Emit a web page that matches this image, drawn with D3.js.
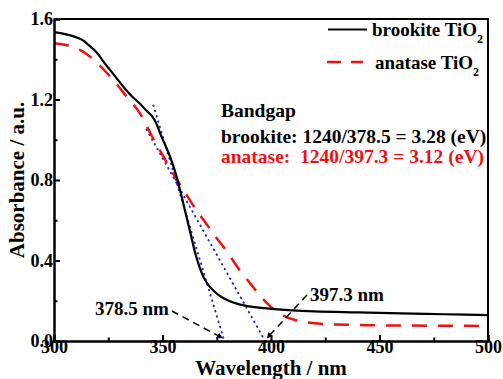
<!DOCTYPE html>
<html>
<head>
<meta charset="utf-8">
<script src="https://cdn.jsdelivr.net/npm/d3@7/dist/d3.min.js"></script>
<style>
  html, body { margin: 0; padding: 0; background: #fff; }
  svg { display: block; }
  text { font-family: "Liberation Serif", "Times New Roman", serif; font-weight: bold; }
</style>
</head>
<body>
<svg id="chart" width="503" height="379"></svg>
<script>
// Absorption spectra (absorbance vs wavelength, nm)
const brookiteWl = [300, 305, 310, 313, 316, 320, 323, 326, 330, 333, 336, 340, 343, 345, 347, 349, 351, 353.5, 356.5, 359, 361, 363, 365, 367, 369, 371, 374, 377, 380, 385, 390, 400, 410, 420, 440, 460, 480, 500];
const brookiteAbs = [1.535, 1.525, 1.51, 1.496, 1.47, 1.43, 1.385, 1.345, 1.29, 1.25, 1.215, 1.175, 1.14, 1.12, 1.085, 1.03, 0.98, 0.916, 0.817, 0.71, 0.62, 0.53, 0.44, 0.37, 0.315, 0.28, 0.245, 0.22, 0.203, 0.183, 0.172, 0.16, 0.152, 0.147, 0.142, 0.137, 0.133, 0.129];

const anataseWl = [300, 305, 310, 313, 316.6, 321, 327, 333.5, 340, 345, 350, 355, 360, 365, 370, 375, 380, 385, 390, 394.5, 398, 402, 406, 410, 415, 420, 430, 450, 475, 500];
const anataseAbs = [1.479, 1.472, 1.455, 1.44, 1.413, 1.37, 1.30, 1.214, 1.125, 1.02, 0.925, 0.83, 0.745, 0.66, 0.585, 0.51, 0.44, 0.36, 0.292, 0.232, 0.19, 0.152, 0.125, 0.108, 0.095, 0.088, 0.082, 0.078, 0.076, 0.075];

// Tangent lines extrapolated to the baseline (absorption edges)
const brookiteEdge = 378.5;
const anataseEdge = 397.3;
const brookiteTangentWl = [345.8, brookiteEdge];
const brookiteTangentAbs = [1.17, 0];
const anataseTangentWl = [342.7, anataseEdge];
const anataseTangentAbs = [1.05, 0];

// Axis ticks
const xMajorTicks = [300, 350, 400, 450, 500];
const xMinorTicks = [325, 375, 425, 475];
const yMajorTicks = [0.0, 0.4, 0.8, 1.2, 1.6];
const yMinorTicks = [0.2, 0.6, 1.0, 1.4];

const seriesNames = ["brookite TiO", "anatase TiO"];

const svg = d3.select("#chart");
const x = d3.scaleLinear().domain([300, 500]).range([54, 488]);
const y = d3.scaleLinear().domain([0, 1.6]).range([341, 19]);

const zip = (a, b) => a.map((v, i) => [v, b[i]]);
const line = d3.line().x(d => x(d[0])).y(d => y(d[1])).curve(d3.curveMonotoneX);
const straight = d3.line().x(d => x(d[0])).y(d => y(d[1]));

// Tangent lines (blue dotted)
[[brookiteTangentWl, brookiteTangentAbs], [anataseTangentWl, anataseTangentAbs]].forEach(([w, a]) => {
  svg.append("path")
    .attr("d", straight(zip(w, a)))
    .attr("fill", "none")
    .attr("stroke", "#2222dd")
    .attr("stroke-width", 2)
    .attr("stroke-linecap", "round")
    .attr("stroke-dasharray", "0.5,5");
});

// Spectra
svg.append("path")
  .attr("d", line(zip(anataseWl, anataseAbs)))
  .attr("fill", "none")
  .attr("stroke", "#ee1111")
  .attr("stroke-width", 2.5)
  .attr("stroke-dasharray", "15,11");

svg.append("path")
  .attr("d", line(zip(brookiteWl, brookiteAbs)))
  .attr("fill", "none")
  .attr("stroke", "#000")
  .attr("stroke-width", 2.2);

// Axes
const axisFont = g => g.selectAll("text")
  .style("font-family", "'Liberation Serif', 'Times New Roman', serif")
  .style("font-weight", "bold")
  .style("font-size", "18px")
  .attr("fill", "#000");

const gx = svg.append("g").attr("transform", `translate(0,${y(0)})`)
  .call(d3.axisBottom(x).tickValues(xMajorTicks).tickSize(-6).tickFormat(d3.format("d")));
gx.call(axisFont);
gx.selectAll(".tick text").attr("y", 11.5).attr("dy", null);
svg.append("g").attr("transform", `translate(0,${y(0)})`)
  .call(d3.axisBottom(x).tickValues(xMinorTicks).tickSize(-3.5).tickFormat(""));

const gy = svg.append("g").attr("transform", `translate(${x(300)},0)`)
  .call(d3.axisLeft(y).tickValues(yMajorTicks).tickSize(-6).tickPadding(1).tickFormat(d3.format(".1f")));
gy.call(axisFont);
svg.append("g").attr("transform", `translate(${x(300)},0)`)
  .call(d3.axisLeft(y).tickValues(yMinorTicks).tickSize(-3.5).tickFormat(""));

svg.selectAll(".domain").attr("stroke", "#000").attr("stroke-width", 2);
svg.selectAll(".tick line").attr("stroke", "#000").attr("stroke-width", 2);

// Frame top and right
svg.append("path")
  .attr("d", `M${x(300)},${y(1.6)}H${x(500)}V${y(0)}`)
  .attr("fill", "none")
  .attr("stroke", "#000")
  .attr("stroke-width", 2);

// Axis titles
svg.append("text")
  .attr("x", 271).attr("y", 375)
  .attr("text-anchor", "middle")
  .style("font-size", "21px")
  .text("Wavelength / nm");

svg.append("text")
  .attr("transform", "translate(24,180) rotate(-90)")
  .attr("text-anchor", "middle")
  .style("font-size", "21px")
  .text("Absorbance / a.u.");

// Legend
const legend = svg.append("g");
legend.append("line")
  .attr("x1", 328).attr("x2", 367).attr("y1", 29.5).attr("y2", 29.5)
  .attr("stroke", "#000").attr("stroke-width", 2.2);
legend.append("line")
  .attr("x1", 327).attr("x2", 363).attr("y1", 62).attr("y2", 62)
  .attr("stroke", "#ee1111").attr("stroke-width", 2.5).attr("stroke-dasharray", "14,10");

[[372, 36], [375, 69]].forEach(([lx, ly], i) => {
  const t = legend.append("text").attr("x", lx).attr("y", ly).style("font-size", "19px");
  t.append("tspan").text(seriesNames[i]);
  t.append("tspan").attr("dy", 7).style("font-size", "12px").text("2");
});

// Band gap annotations
const fmt1 = d3.format(".1f");
const fmt2 = d3.format(".2f");
const note = svg.append("g").style("font-size", "19.5px");
note.append("text").attr("x", 221).attr("y", 117).text("Bandgap");
note.append("text").attr("x", 221).attr("y", 143)
  .text(`brookite: 1240/${fmt1(brookiteEdge)} = ${fmt2(1240 / brookiteEdge)} (eV)`);
note.append("text").attr("x", 221).attr("y", 163)
  .attr("fill", "#ee1111")
  .style("white-space", "pre")
  .text(`anatase:  1240/${fmt1(anataseEdge)} = ${fmt2(1240 / anataseEdge)} (eV)`);

// Edge labels with dashed arrows to the baseline intercepts
svg.append("defs").append("marker")
  .attr("id", "arrow")
  .attr("viewBox", "0 0 10 10")
  .attr("refX", 9).attr("refY", 5)
  .attr("markerWidth", 4).attr("markerHeight", 4)
  .attr("orient", "auto")
  .append("path").attr("d", "M0,0L10,5L0,10Z").attr("fill", "#000");

const edgeLabels = [
  { text: `${fmt1(brookiteEdge)} nm`, tx: 95, ty: 315, from: [172, 311], edge: brookiteEdge },
  { text: `${fmt1(anataseEdge)} nm`, tx: 310, ty: 301, from: [307, 295], edge: anataseEdge }
];
edgeLabels.forEach(d => {
  svg.append("text").attr("x", d.tx).attr("y", d.ty).style("font-size", "19px").text(d.text);
  svg.append("line")
    .attr("x1", d.from[0]).attr("y1", d.from[1])
    .attr("x2", x(d.edge) - (d.from[0] < x(d.edge) ? 2 : -2)).attr("y2", y(0) - 3)
    .attr("stroke", "#000").attr("stroke-width", 1.5)
    .attr("stroke-dasharray", "7,5")
    .attr("marker-end", "url(#arrow)");
});
</script>
</body>
</html>
